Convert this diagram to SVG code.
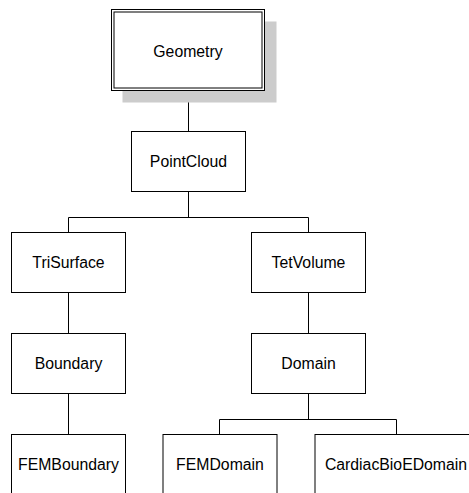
<svg xmlns="http://www.w3.org/2000/svg" width="469" height="493" viewBox="0 0 469 493">
<style>
.box{fill:#fff;stroke:#000;stroke-width:1}
.lbl{font-family:"Liberation Sans",Arial,sans-serif;font-size:15.8px;fill:#000;text-anchor:middle}
.conn{fill:none;stroke:#000;stroke-width:1}
</style>
<rect width="469" height="493" fill="#fff"/>
<g id="connectors">
<path class="conn" d="M188.5 91V131.5"/>
<path class="conn" d="M188.5 191.5V217.5M68.5 232.5V217.5H308.5V232.5"/>
<path class="conn" d="M68.5 292V333.5"/>
<path class="conn" d="M308.5 292V333.5"/>
<path class="conn" d="M68.5 394V434.5"/>
<path class="conn" d="M308.5 394V419.5M219.5 434.5V419.5H396.5V434.5"/>
</g>
<g id="Geometry">
<rect x="122.5" y="21.5" width="154" height="81" fill="#cccccc"/>
<rect class="box" x="111.5" y="9.5" width="153" height="81"/>
<rect class="box" x="114" y="12" width="148" height="76"/>
<text class="lbl" x="188" y="57">Geometry</text>
</g>
<g id="PointCloud">
<rect class="box" x="131.5" y="131.5" width="114" height="60"/>
<text class="lbl" x="188.5" y="167">PointCloud</text>
</g>
<g id="TriSurface">
<rect class="box" x="11.5" y="232.5" width="114" height="60"/>
<text class="lbl" x="68.5" y="268">TriSurface</text>
</g>
<g id="TetVolume">
<rect class="box" x="251.5" y="232.5" width="114" height="60"/>
<text class="lbl" x="308.5" y="268">TetVolume</text>
</g>
<g id="Boundary">
<rect class="box" x="11.5" y="333.5" width="114" height="60"/>
<text class="lbl" x="68.5" y="369">Boundary</text>
</g>
<g id="Domain">
<rect class="box" x="251.5" y="333.5" width="114" height="60"/>
<text class="lbl" x="308.5" y="369">Domain</text>
</g>
<g id="FEMBoundary">
<rect class="box" x="11.5" y="434.5" width="114" height="70"/>
<text class="lbl" x="68.5" y="469.5">FEMBoundary</text>
</g>
<g id="FEMDomain">
<rect class="box" x="163" y="434.5" width="114" height="70"/>
<text class="lbl" x="220" y="469.5">FEMDomain</text>
</g>
<g id="CardiacBioEDomain">
<rect class="box" x="315" y="434.5" width="165" height="70"/>
<text class="lbl" x="396" y="469.5">CardiacBioEDomain</text>
</g>
</svg>
